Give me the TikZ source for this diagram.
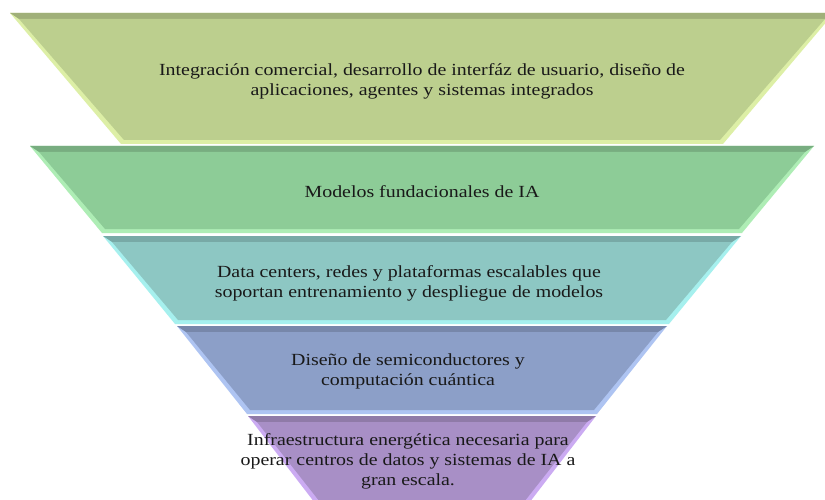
\documentclass[tikz,border=0pt]{standalone}
\usepackage{fontspec}
\setmainfont{Liberation Serif}[FakeStretch=1.17]

% colours of the five tiers (face and light bevel)
\definecolor{faceA}{HTML}{BCCF8E}
\definecolor{lightA}{HTML}{DDEFA6}
\definecolor{faceB}{HTML}{8DCC97}
\definecolor{lightB}{HTML}{AEEDB5}
\definecolor{faceC}{HTML}{8DC7C3}
\definecolor{lightC}{HTML}{A6F0EE}
\definecolor{faceD}{HTML}{8C9FC8}
\definecolor{lightD}{HTML}{AEC4F2}
\definecolor{faceE}{HTML}{A88FC6}
\definecolor{lightE}{HTML}{CBABF2}

\tikzset{
  tiertext/.style={align=center, text=black!90,
    font=\fontsize{17}{20}\selectfont}
}

\begin{document}
\begin{tikzpicture}[x=1pt,y=-1pt]

\clip (0,0) rectangle (825,500);
\fill[white] (0,0) rectangle (825,500);

% Tiers of the funnel, top to bottom
\foreach \tl/\tr/\ty/\bl/\br/\by/\c in {10/834/13/121/723/144/A,
    30/814/146/102/742/233/B,
    103/741/236/175/669/324/C,
    177/667/326/247/597/414/D,
    248/596/416/328/516/520/E}
{
    \fill[light\c] (\tl,\ty) -- (\tr,\ty) -- (\br,\by) -- (\bl,\by) -- cycle;
    \fill[face\c!85!black] (\tl,\ty) -- (\tr,\ty) -- (\tr-9,\ty+6) -- (\tl+9,\ty+6) -- cycle;
    \fill[face\c] (\tl+9,\ty+6) -- (\tr-9,\ty+6) -- (\br-3,\by-4) -- (\bl+3,\by-4) -- cycle;
}

% Label for tier 1
\node[tiertext] (apps) at (422,81)
    {Integración comercial, desarrollo de interfáz de usuario, diseño de\\
     aplicaciones, agentes y sistemas integrados};

% Label for tier 2
\node[tiertext] (models) at (422,192) {Modelos fundacionales de IA};

% Label for tier 3
\node[tiertext] (cloud) at (409,283)
    {Data centers, redes y plataformas escalables que\\
     soportan entrenamiento y despliegue de modelos};

% Label for tier 4
\node[tiertext] (chips) at (408,371)
    {Diseño de semiconductores y\\computación cuántica};

% Label for tier 5
\node[tiertext] (energy) at (408,461)
    {Infraestructura energética necesaria para\\
     operar centros de datos y sistemas de IA a\\gran escala.};

\end{tikzpicture}
\end{document}
